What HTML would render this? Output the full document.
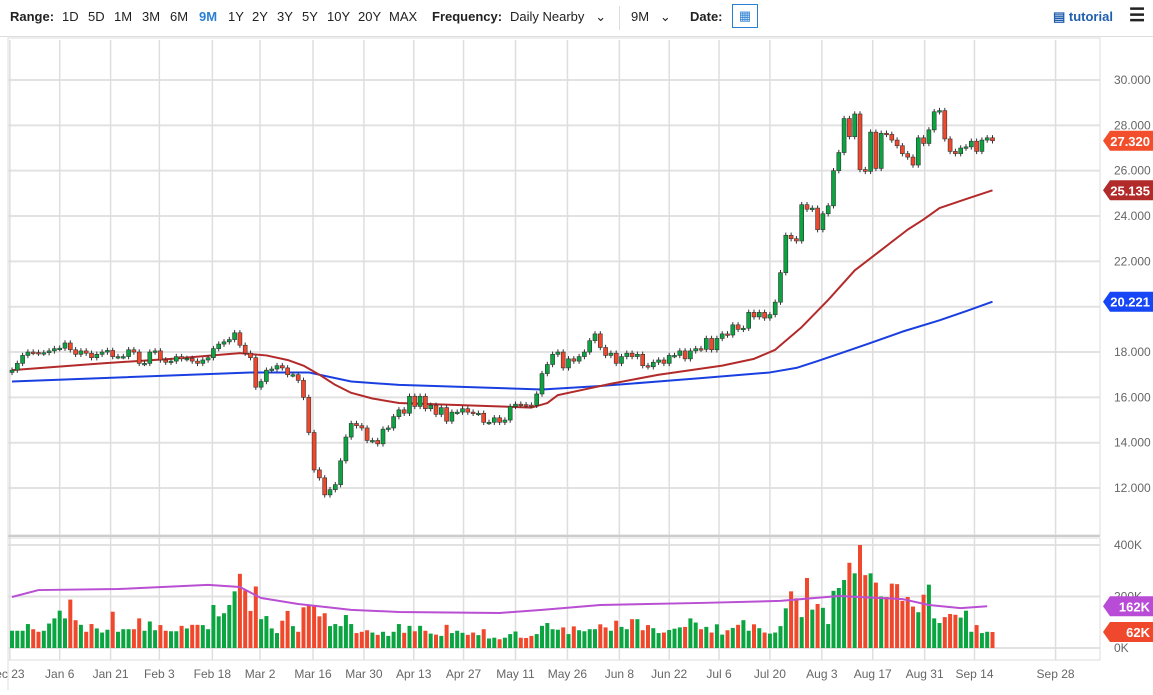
<!DOCTYPE html>
<html><head><meta charset="utf-8">
<style>
body{margin:0;background:#fff;width:1153px;height:695px;overflow:hidden;font-family:"Liberation Sans",sans-serif;}
#bar{position:absolute;left:0;top:0;width:1153px;height:36px;border-bottom:1px solid #ddd;font-size:13px;color:#222;}
#bar span{position:absolute;top:9px;}
.b{font-weight:bold;}
</style></head><body>
<div id="bar">
<span class="b" style="left:10px">Range:</span>
<span style="left:62px">1D</span>
<span style="left:88px">5D</span>
<span style="left:114px">1M</span>
<span style="left:142px">3M</span>
<span style="left:170px">6M</span>
<span style="left:199px;color:#2a7fd4;font-weight:bold">9M</span>
<span style="left:228px">1Y</span>
<span style="left:252px">2Y</span>
<span style="left:277px">3Y</span>
<span style="left:302px">5Y</span>
<span style="left:327px">10Y</span>
<span style="left:358px">20Y</span>
<span style="left:389px">MAX</span>
<span class="b" style="left:432px">Frequency:</span>
<span style="left:510px">Daily Nearby &nbsp;&nbsp;⌄</span>
<span style="left:619px;top:6px;height:24px;border-left:1px solid #ddd"></span>
<span style="left:631px">9M &nbsp;&nbsp;⌄</span>
<span class="b" style="left:690px">Date:</span>
<span style="left:732px;top:4px;width:24px;height:22px;border:1px solid #2a7fd4;text-align:center;color:#2a7fd4;line-height:22px">▦</span>
<span style="left:1053px;color:#1f5fae;font-weight:bold">▤ tutorial</span>
<span style="left:1129px;top:5px;font-size:18px;font-weight:bold">☰</span>
</div>
<svg id="c" width="1153" height="695" style="position:absolute;left:0;top:0"></svg>
<script>
const closes=[17.2,17.5,17.85,18.0,17.98,17.95,17.97,18.05,18.15,18.17,18.4,18.1,17.9,18.05,17.95,17.75,17.9,18.0,18.07,17.8,17.8,17.8,18.1,18.0,17.5,17.5,18.0,18.05,17.65,17.55,17.6,17.8,17.7,17.72,17.6,17.5,17.65,17.75,18.15,18.35,18.45,18.55,18.85,18.3,17.95,17.75,16.45,16.7,17.2,17.25,17.4,17.3,17.0,17.0,16.75,16.0,14.45,12.8,12.45,11.7,11.93,12.15,13.2,14.25,14.85,14.75,14.65,14.1,14.1,13.95,
14.6,14.65,15.15,15.45,15.3,16.05,15.6,16.05,15.5,15.65,15.25,15.55,14.95,15.35,15.35,15.5,15.35,15.3,15.3,14.9,14.9,15.1,14.9,15.0,15.6,15.7,15.68,15.66,15.65,16.15,17.05,17.45,17.9,18.0,17.3,17.7,17.6,17.8,18.0,18.5,18.8,18.2,17.85,17.95,17.5,17.8,17.95,17.8,17.9,17.4,17.35,17.55,17.65,17.5,17.85,17.85,18.05,17.7,18.05,18.15,18.12,18.6,18.1,18.6,18.8,18.75,19.2,19.0,19.05,19.75,19.55,19.75,19.5,19.65,20.2,
21.5,23.15,23.0,22.9,24.5,24.3,24.35,23.4,24.1,24.45,26.0,26.8,28.3,27.5,28.5,26.05,25.97,27.7,26.1,27.65,27.6,27.35,27.1,26.75,26.6,26.25,27.45,27.2,27.8,28.6,28.65,27.4,26.85,26.75,27.0,27.05,27.3,26.85,27.35,27.45,27.32];
const volumes=[67,67,67,93,73,63,67,95,115,145,115,188,108,90,63,93,76,60,71,141,63,73,73,73,115,67,103,69,89,67,65,65,86,76,90,90,89,73,167,123,135,167,220,288,224,144,239,112,124,76,58,106,144,85,63,158,167,167,123,135,85,93,85,128,93,58,63,69,60,51,63,47,63,93,59,86,65,86,67,56,52,47,90,58,67,59,51,60,50,73,37,40,34,40,54,64,40,39,47,54,86,97,73,71,
80,54,84,69,65,73,73,92,80,67,106,82,73,112,112,69,89,77,58,60,70,75,80,82,115,99,73,82,60,92,52,69,78,90,108,67,92,77,60,56,60,85,154,220,193,120,272,149,171,156,93,222,233,264,331,290,400,283,290,254,200,198,250,248,183,198,161,139,207,246,115,97,120,132,129,118,145,63,89,58,63,62];
const ma50Idx=[0,17,30,43,48,52,55,58,61,64,68,73,86,98,101,103,108,113,122,134,140,144,149,154,159,164,169,172,175,180,185];
const ma50Val=[17.2,17.5,17.7,17.95,17.85,17.65,17.4,17.0,16.55,16.2,15.95,15.75,15.65,15.55,15.75,16.1,16.35,16.6,17.0,17.4,17.7,18.1,19.1,20.3,21.6,22.5,23.4,23.85,24.35,24.75,25.135];
const ma200Idx=[0,45,56,60,64,73,100,111,130,143,148,152,157,162,168,175,180,185];
const ma200Val=[16.7,17.1,17.1,16.9,16.7,16.55,16.35,16.5,16.85,17.1,17.3,17.6,18.0,18.4,18.9,19.4,19.8,20.221];
const vmaIdx=[0,5,20,37,43,47,54,64,73,92,100,111,130,145,156,168,173,179,184];
const vmaVal=[198,225,229,245,237,194,171,148,140,136,148,167,175,183,202,190,167,155,162];
const priceTicks=[12,14,16,18,20,22,24,26,28,30];
const volTicks=[0,200,400];
const dateLabels=["ec 23","Jan 6","Jan 21","Feb 3","Feb 18","Mar 2","Mar 16","Mar 30","Apr 13","Apr 27","May 11","May 26","Jun 8","Jun 22","Jul 6","Jul 20","Aug 3","Aug 17","Aug 31","Sep 14","Sep 28"];
const dateIdx=[-0.4,9,18.6,27.8,37.8,46.8,56.8,66.4,75.8,85.2,95,104.8,114.6,124,133.4,143,152.8,162.4,172.2,181.6,196.9];

const svg=document.getElementById('c');const NS='http://www.w3.org/2000/svg';
function el(t,a,p){const e=document.createElementNS(NS,t);for(const k in a)e.setAttribute(k,a[k]);(p||svg).appendChild(e);return e;}
const X=i=>12+i*5.3;
const Y=p=>80+(30-p)*22.67;
const VY=v=>648-v*0.2575;
const L=8,R=1100;
let g=el('g',{});
priceTicks.forEach(p=>{el('line',{x1:L,x2:R,y1:Y(p),y2:Y(p),stroke:'#e2e2e2','stroke-width':2},g);
 const t=el('text',{x:1114,y:Y(p)+4,'font-size':12,fill:'#666'},g);t.textContent=p.toFixed(3);
 });
volTicks.forEach(v=>{el('line',{x1:L,x2:R,y1:VY(v),y2:VY(v),stroke:'#e2e2e2','stroke-width':2},g);
 const t=el('text',{x:1114,y:VY(v)+4,'font-size':12,fill:'#666'},g);t.textContent=v+'K';
 });
dateIdx.forEach((d,k)=>{const x=X(d);el('line',{x1:x,x2:x,y1:40,y2:660,stroke:'#dedede','stroke-width':1.5},g);
 const t=el('text',{x:x,y:678,'font-size':12,fill:'#666','text-anchor':'middle'},g);t.textContent=dateLabels[k];
 });
el('rect',{x:L,y:38,width:R-L,height:497,fill:'none',stroke:'#ddd'},g);
el('line',{x1:L,x2:R,y1:536,y2:536,stroke:'#ccc','stroke-width':2},g);
el('rect',{x:L,y:538,width:R-L,height:122,fill:'none',stroke:'#ddd'},g);
el('line',{x1:L,x2:L,y1:38,y2:690,stroke:'#ddd'},g);
function line(idx,val,fn,color,name,w){const pts=idx.map((i,k)=>X(i)+','+fn(val[k])).join(' ');
 const p=el('polyline',{points:pts,fill:'none',stroke:color,'stroke-width':w,'stroke-linejoin':'round'});}
line(ma200Idx,ma200Val,Y,'#1a3fe0','ma200-line',2);
line(ma50Idx,ma50Val,Y,'#b32a2a','ma50-line',2);
const GREEN='#0aa540',RED='#f0482c';
closes.forEach((c,i)=>{const o=i?closes[i-1]:17.1;const up=c>=o;const x=X(i);
 const hi=Math.max(o,c)+0.12,lo=Math.min(o,c)-0.12;
 const cg=el('g',{});
 el('line',{x1:x,x2:x,y1:Y(hi),y2:Y(lo),stroke:'#333','stroke-width':1},cg);
 const top=Y(Math.max(o,c)),h=Math.max(1.5,Y(Math.min(o,c))-top);
 el('rect',{x:x-2,y:top,width:4,height:h,fill:up?GREEN:RED,stroke:'#333','stroke-width':0.6},cg);
 const v=volumes[i];if(v!==undefined){const b=el('rect',{x:x-2,y:VY(v),width:4,height:648-VY(v),fill:up?GREEN:RED});
 }
});
line(vmaIdx,vmaVal,VY,'#b94fd3','volume-ma-line',2);
function tag(y,txt,color,name){const tg=el('g',{});
 el('polygon',{points:`1103,${y} 1110,${y-10} 1153,${y-10} 1153,${y+10} 1110,${y+10}`,fill:color},tg);
 const t=el('text',{x:1150,y:y+5,'font-size':13,'font-weight':'bold',fill:'#fff','text-anchor':'end'},tg);t.textContent=txt;}
tag(Y(27.32),'27.320','#f24e2c','last-price-tag');
tag(Y(25.135),'25.135','#b22b2b','ma50-tag');
tag(Y(20.221),'20.221','#1646f5','ma200-tag');
tag(VY(162),'162K','#b84cd6','volume-ma-tag');
tag(VY(62),'62K','#f0482c','volume-tag');
</script>
</body></html>
